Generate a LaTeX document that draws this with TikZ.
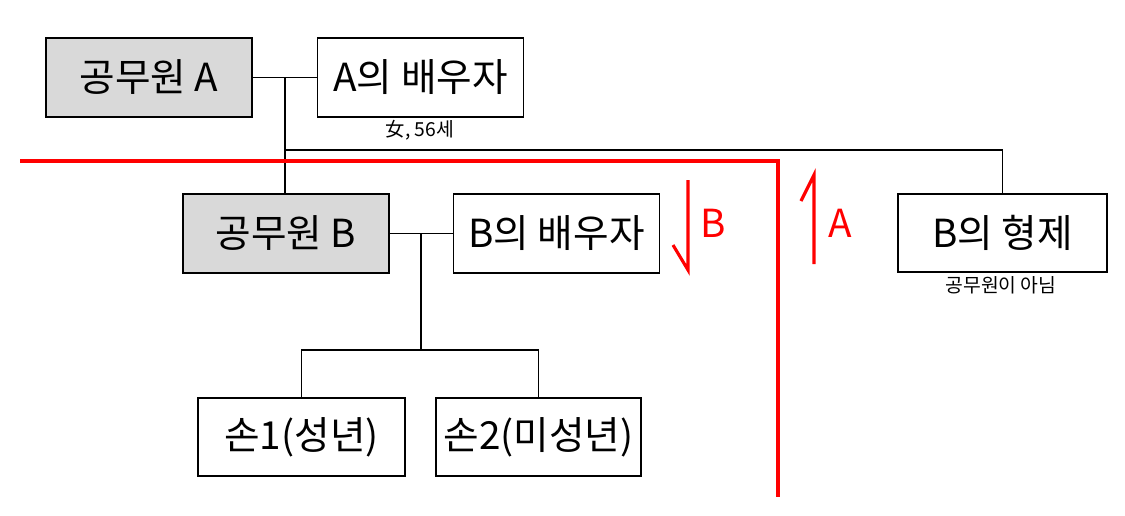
\documentclass[tikz,border=0pt]{standalone}
\usepackage{fontspec}
\setmainfont{Noto Sans CJK KR}
\usepackage{xcolor}
\usepackage{tikz}
\usetikzlibrary{calc,positioning}
\definecolor{KinGray}{HTML}{D9D9D9}
\definecolor{KinRed}{HTML}{FF0000}
\definecolor{KinBlack}{HTML}{000000}
\tikzset{
  person/.style={
    draw=KinBlack,
    line width=1.1pt,
    fill=white,
    minimum width=4.12cm,
    minimum height=1.57cm,
    inner sep=0pt,
    align=center,
    font=\fontsize{22}{26}\selectfont
  },
  officer/.style={person,fill=KinGray},
  note/.style={font=\fontsize{11}{13}\selectfont,inner sep=0pt},
  link/.style={draw=KinBlack,line width=1.1pt},
  boundary/.style={draw=KinRed,line width=2.4pt},
  halfarrow/.style={draw=KinRed,line width=1.8pt},
  sidelabel/.style={text=KinRed,font=\fontsize{22}{26}\selectfont,inner sep=0pt}
}

\begin{document}
\begin{tikzpicture}[x=0.02cm,y=-0.02cm]
  \useasboundingbox (0,0) rectangle (1125,515);
  % persons
  \node[officer] (offA) at (149,77.5) {공무원 A};
  \node[person] (spouseA) at (420.5,77.5) {A의 배우자};
  \node[note] (ageA) at (420,130) {女, 56세};
  \node[officer] (offB) at (286,233.5) {공무원 B};
  \node[person] (spouseB) at (556.5,233.5) {B의 배우자};
  \node[person,minimum width=4.18cm] (sibB) at (1002.5,233) {B의 형제};
  \node[note] (sibnote) at (1001,285) {공무원이 아님};
  \node[person,minimum width=4.14cm] (child1) at (301.5,437) {손1(성년)};
  \node[person,minimum width=4.1cm] (child2) at (538.5,437) {손2(미성년)};
  % joints
  \coordinate (jA) at (285,77.5);
  \coordinate (jSib) at (285,150);
  \coordinate (jB) at (421,233.5);
  \coordinate (jKids) at (421,350);
  % family lines
  \draw[link] (offA.east) -- (spouseA.west);
  \draw[link] (jA) -- (jA |- offB.north);
  \draw[link] (jSib) -| (sibB.north);
  \draw[link] (offB.east) -- (spouseB.west);
  \draw[link] (jB) -- (jKids);
  \draw[link] (child1.north) |- (jKids) -| (child2.north);
  % red boundary
  \coordinate (redStart) at (20,161);
  \coordinate (redCorner) at (778,161);
  \coordinate (redEnd) at (778,497);
  \draw[boundary] (redStart) -- (redCorner) -- (redEnd);
  % direction marks
  \coordinate (bTop) at (688,180);
  \coordinate (bTip) at (688,270);
  \coordinate (bBarb) at (673,245);
  \coordinate (aBottom) at (814,264);
  \coordinate (aTip) at (814,175);
  \coordinate (aBarb) at (801,201);
  \draw[halfarrow] (bTop) -- (bTip) -- (bBarb);
  \draw[halfarrow] (aBottom) -- (aTip) -- (aBarb);
  \node[sidelabel] (labB) at (713,223) {B};
  \node[sidelabel] (labA) at (840,223) {A};
\end{tikzpicture}
\end{document}
